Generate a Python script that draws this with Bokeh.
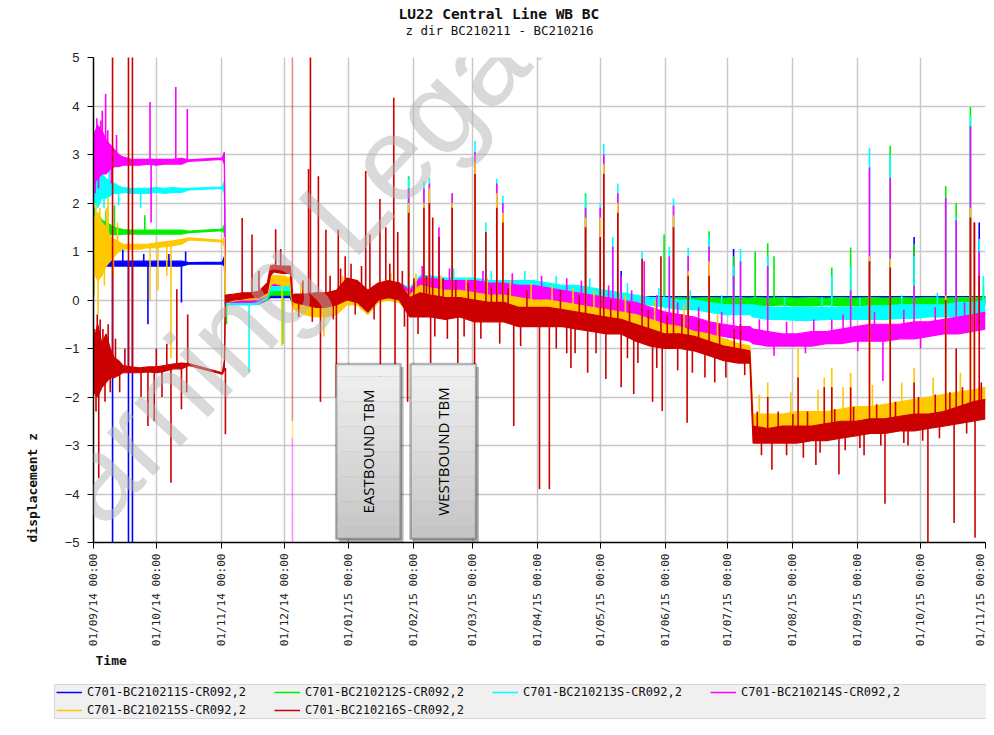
import math
import numpy as np
import pandas as pd
from bokeh.plotting import figure
from bokeh.layouts import column
from bokeh.models import (ColumnDataSource, Range1d, SingleIntervalTicker, MonthsTicker,
                          DatetimeTickFormatter, Legend, LegendItem, Label, BoxAnnotation, Title)
from bokeh.embed import file_html
from bokeh.resources import INLINE

START = "2014-09-01"
END = "2015-11-01"

# day offsets from START (shared by all series)
DAYS = [0, 2, 4, 6, 8, 10, 12, 14, 18, 22, 26, 30, 34, 38, 42, 45.5,
        61.5, 62.5, 63, 67, 71, 75, 79, 83, 84.5, 86, 90, 94,
        95, 96, 101, 106, 111, 116, 121, 126, 131, 136, 141, 146, 151,
        156, 161, 168, 175, 182, 189, 196, 203, 210, 217, 224, 231, 238, 245, 252, 259, 266, 273, 280, 287, 294, 301, 308, 313.5,
        315, 322, 329, 336, 343, 350, 357, 364, 371, 378, 385, 392, 399, 406, 413, 420, 426]

LABELS = ["C701-BC210211S-CR092,2", "C701-BC210212S-CR092,2", "C701-BC210213S-CR092,2",
          "C701-BC210214S-CR092,2", "C701-BC210215S-CR092,2", "C701-BC210216S-CR092,2"]
COLORS = ["#0000ff", "#00ee00", "#00ffff", "#ff00ff", "#ffc800", "#cc0000"]

BLUE_LO = [0.65, 0.6, 0.65, 0.7, 0.7, 0.7, 0.7, 0.7, 0.7, 0.7, 0.7, 0.7, 0.7, 0.7, 0.7, 0.74,
           0.74, 0.7, -0.08, -0.08, -0.08, -0.08, -0.08, 0.0, 0.05, 0.05, 0.05, 0.05,
           -0.05, -0.05, -0.05, -0.05, -0.05, -0.05, 0.0, 0.0, -0.02, 0.0, 0.0, 0.0, -0.05,
           0.0, 0.0, 0.0, 0.0, 0.0, 0.0, 0.0, -0.02, -0.02, -0.03, -0.03, -0.04, -0.05, -0.05, -0.05, -0.06, -0.06, -0.06, -0.06, -0.06, -0.06, -0.06, -0.06, -0.06,
           -0.06, -0.06, -0.06, -0.06, -0.06, -0.06, -0.06, -0.06, -0.06, -0.06, -0.06, -0.06, -0.06, -0.06, -0.06, -0.06, -0.06]
BLUE_HI = [0.95, 0.9, 0.9, 0.85, 0.8, 0.8, 0.8, 0.8, 0.8, 0.8, 0.8, 0.8, 0.8, 0.8, 0.8, 0.77,
           0.78, 0.9, 0.0, 0.0, 0.0, 0.0, 0.0, 0.08, 0.15, 0.15, 0.15, 0.15,
           0.05, 0.05, 0.05, 0.05, 0.05, 0.05, 0.1, 0.1, 0.05, 0.1, 0.1, 0.1, 0.05,
           0.2, 0.2, 0.2, 0.2, 0.2, 0.2, 0.2, 0.15, 0.15, 0.1, 0.1, 0.08, 0.07, 0.07, 0.07, 0.07, 0.07, 0.07, 0.07, 0.07, 0.07, 0.07, 0.07, 0.07,
           0.07, 0.07, 0.07, 0.07, 0.07, 0.07, 0.07, 0.07, 0.07, 0.07, 0.07, 0.07, 0.07, 0.07, 0.07, 0.07, 0.07]

GREEN_LO = [1.2, 1.2, 1.25, 1.3, 1.35, 1.35, 1.35, 1.36, 1.36, 1.36, 1.36, 1.36, 1.36, 1.36, 1.36, 1.39,
            1.43, 1.38, -0.05, -0.05, -0.05, -0.05, -0.05, 0.0, 0.1, 0.1, 0.1, 0.1,
            -0.05, -0.05, -0.05, -0.05, -0.05, -0.05, 0.0, 0.0, -0.05, 0.0, 0.0, 0.0, -0.05,
            0.05, 0.05, 0.05, 0.05, 0.05, 0.05, 0.05, 0.0, 0.0, 0.0, 0.0, 0.0, -0.05, -0.05, -0.05, -0.08, -0.1, -0.12, -0.12, -0.12, -0.12, -0.12, -0.12, -0.12,
            -0.12, -0.12, -0.1, -0.12, -0.12, -0.1, -0.12, -0.12, -0.1, -0.12, -0.12, -0.1, -0.12, -0.12, -0.1, -0.12, -0.1]
GREEN_HI = [1.7, 1.8, 1.65, 1.6, 1.55, 1.5, 1.48, 1.45, 1.44, 1.44, 1.44, 1.44, 1.44, 1.44, 1.44, 1.42,
            1.46, 1.55, 0.02, 0.02, 0.02, 0.02, 0.02, 0.1, 0.22, 0.22, 0.22, 0.22,
            0.05, 0.05, 0.05, 0.05, 0.05, 0.05, 0.2, 0.2, 0.05, 0.2, 0.2, 0.2, 0.15,
            0.3, 0.3, 0.3, 0.3, 0.3, 0.3, 0.3, 0.3, 0.3, 0.25, 0.2, 0.15, 0.15, 0.1, 0.1, 0.06, 0.05, 0.04, 0.05, 0.04, 0.05, 0.04, 0.05, 0.04,
            0.05, 0.04, 0.05, 0.04, 0.05, 0.04, 0.05, 0.04, 0.05, 0.04, 0.05, 0.04, 0.05, 0.04, 0.05, 0.05, 0.06]

CYAN_LO = [2.0, 1.9, 2.1, 2.1, 2.15, 2.2, 2.2, 2.22, 2.2, 2.2, 2.2, 2.22, 2.2, 2.22, 2.22, 2.27,
           2.3, 2.2, -0.1, -0.1, -0.1, -0.1, -0.08, 0.05, 0.2, 0.2, 0.2, 0.2,
           -0.05, -0.05, -0.05, -0.05, -0.05, -0.05, 0.05, 0.05, -0.1, 0.05, 0.1, 0.1, 0.0,
           0.15, 0.15, 0.15, 0.15, 0.1, 0.1, 0.1, 0.1, 0.1, 0.05, 0.05, 0.0, 0.0, 0.0, -0.05, -0.05, -0.1, -0.15, -0.2, -0.2, -0.25, -0.3, -0.3, -0.3,
           -0.35, -0.4, -0.4, -0.42, -0.42, -0.4, -0.4, -0.4, -0.4, -0.4, -0.38, -0.38, -0.35, -0.35, -0.35, -0.35, -0.3]
CYAN_HI = [2.6, 2.7, 2.6, 2.5, 2.45, 2.4, 2.35, 2.32, 2.3, 2.3, 2.3, 2.32, 2.3, 2.32, 2.3, 2.3,
           2.33, 2.45, 0.0, 0.0, 0.0, 0.0, 0.02, 0.15, 0.3, 0.32, 0.32, 0.3,
           0.05, 0.1, 0.1, 0.1, 0.1, 0.1, 0.3, 0.3, 0.15, 0.3, 0.35, 0.35, 0.25,
           0.5, 0.5, 0.45, 0.45, 0.45, 0.4, 0.4, 0.4, 0.4, 0.35, 0.3, 0.3, 0.25, 0.2, 0.15, 0.1, 0.05, 0.05, 0.0, 0.0, -0.05, -0.1, -0.1, -0.1,
           -0.1, -0.15, -0.15, -0.15, -0.15, -0.15, -0.15, -0.15, -0.12, -0.12, -0.1, -0.1, -0.1, -0.1, -0.05, -0.05, 0.0]

MAGENTA_LO = [2.4, 2.5, 2.6, 2.6, 2.7, 2.75, 2.75, 2.78, 2.78, 2.78, 2.8, 2.78, 2.8, 2.8, 2.8, 2.86,
              2.9, 2.8, -0.05, -0.05, -0.05, -0.05, -0.03, 0.1, 0.3, 0.3, 0.3, 0.3,
              0.0, -0.1, -0.1, -0.1, -0.1, -0.1, 0.0, 0.0, -0.15, 0.05, 0.1, 0.05, -0.1,
              0.05, 0.05, 0.05, 0.05, 0.0, 0.0, 0.0, -0.05, -0.05, -0.1, -0.1, -0.15, -0.2, -0.25, -0.3, -0.35, -0.45, -0.55, -0.6, -0.65, -0.7, -0.75, -0.8, -0.85,
              -0.9, -0.95, -0.95, -0.95, -0.95, -0.9, -0.9, -0.85, -0.85, -0.85, -0.8, -0.8, -0.75, -0.7, -0.7, -0.65, -0.6]
MAGENTA_HI = [3.4, 3.6, 3.5, 3.3, 3.2, 3.1, 3.0, 2.95, 2.9, 2.9, 2.9, 2.9, 2.9, 2.9, 2.92, 2.89,
              2.93, 3.05, 0.05, 0.05, 0.05, 0.05, 0.05, 0.2, 0.45, 0.45, 0.45, 0.45,
              0.1, 0.1, 0.1, 0.1, 0.1, 0.1, 0.3, 0.3, 0.15, 0.3, 0.35, 0.35, 0.2,
              0.45, 0.45, 0.4, 0.4, 0.4, 0.35, 0.35, 0.3, 0.3, 0.25, 0.2, 0.15, 0.1, 0.05, 0.0, -0.05, -0.15, -0.25, -0.3, -0.35, -0.45, -0.5, -0.55, -0.55,
              -0.6, -0.65, -0.7, -0.7, -0.65, -0.65, -0.6, -0.55, -0.5, -0.5, -0.5, -0.45, -0.45, -0.4, -0.35, -0.3, -0.25]

YELLOW_LO = [0.6, 0.4, 0.5, 0.7, 0.8, 0.9, 1.0, 1.05, 1.05, 1.05, 1.08, 1.08, 1.1, 1.12, 1.15, 1.24,
             1.2, 1.1, -0.05, -0.02, 0.0, 0.0, 0.02, 0.1, 0.3, 0.35, 0.3, 0.3,
             -0.1, -0.2, -0.3, -0.35, -0.35, -0.3, -0.1, -0.1, -0.3, -0.05, 0.0, -0.05, -0.3,
             -0.2, -0.2, -0.2, -0.2, -0.3, -0.3, -0.3, -0.3, -0.3, -0.35, -0.35, -0.4, -0.45, -0.5, -0.55, -0.65, -0.7, -0.8, -0.85, -0.9, -1.0, -1.05, -1.1, -1.15,
             -2.7, -2.75, -2.7, -2.7, -2.65, -2.6, -2.6, -2.55, -2.5, -2.5, -2.45, -2.4, -2.4, -2.35, -2.3, -2.2, -2.15]
YELLOW_HI = [1.7, 1.8, 1.6, 1.5, 1.3, 1.25, 1.2, 1.15, 1.15, 1.15, 1.15, 1.18, 1.2, 1.22, 1.25, 1.28,
             1.23, 1.3, 0.05, 0.05, 0.08, 0.08, 0.1, 0.25, 0.5, 0.5, 0.5, 0.45,
             0.0, 0.0, 0.0, 0.0, 0.0, 0.05, 0.3, 0.3, 0.1, 0.3, 0.35, 0.3, 0.1,
             0.3, 0.25, 0.2, 0.2, 0.15, 0.1, 0.1, 0.05, 0.0, 0.0, -0.05, -0.1, -0.15, -0.2, -0.25, -0.3, -0.4, -0.5, -0.55, -0.65, -0.7, -0.8, -0.9, -0.95,
             -2.35, -2.35, -2.35, -2.3, -2.3, -2.3, -2.25, -2.2, -2.2, -2.15, -2.1, -2.05, -2.0, -1.95, -1.9, -1.85, -1.8]

RED_LO = [-1.9, -2.0, -1.8, -1.7, -1.6, -1.6, -1.55, -1.5, -1.5, -1.5, -1.48, -1.5, -1.47, -1.42, -1.42, -1.35,
          -1.53, -1.45, -0.05, 0.0, 0.02, 0.05, 0.05, 0.15, 0.5, 0.58, 0.55, 0.55,
          0.0, -0.05, -0.1, -0.15, -0.15, -0.1, 0.0, -0.05, -0.25, 0.0, 0.05, 0.0, -0.35,
          -0.35, -0.35, -0.4, -0.35, -0.45, -0.45, -0.45, -0.55, -0.55, -0.55, -0.55, -0.6, -0.65, -0.7, -0.7, -0.85, -0.95, -1.0, -1.0, -1.05, -1.15, -1.25, -1.3, -1.3,
          -2.95, -2.95, -2.95, -2.95, -2.9, -2.9, -2.85, -2.8, -2.75, -2.75, -2.7, -2.7, -2.65, -2.6, -2.55, -2.5, -2.45]
RED_HI = [-0.9, -0.5, -0.9, -0.7, -1.0, -1.2, -1.25, -1.35, -1.38, -1.4, -1.38, -1.38, -1.35, -1.32, -1.3, -1.31,
          -1.5, -1.25, 0.1, 0.12, 0.15, 0.15, 0.18, 0.35, 0.7, 0.72, 0.7, 0.7,
          0.1, 0.12, 0.12, 0.15, 0.15, 0.2, 0.45, 0.4, 0.2, 0.35, 0.4, 0.35, 0.05,
          0.15, 0.1, 0.05, 0.05, 0.0, -0.05, -0.05, -0.15, -0.15, -0.15, -0.2, -0.25, -0.3, -0.35, -0.4, -0.5, -0.6, -0.7, -0.7, -0.75, -0.85, -0.95, -1.0, -1.05,
          -2.6, -2.65, -2.6, -2.6, -2.6, -2.55, -2.5, -2.5, -2.45, -2.45, -2.4, -2.35, -2.35, -2.3, -2.2, -2.1, -2.05]

# spikes: (day, from, to)
BLUE_SPIKES = [(1.5, 0.75, 0.5), (3.8, 0.75, 1.0),
               (9.1, 0.75, -5.1), (16.7, 0.75, -5.1), (18.6, 0.75, -5.1), (14, 0.75, 1.05), (24, 0.75, 0.95),
               (26, 0.75, -0.5), (36, 0.75, 0.95), (42, 0.75, -0.05), (44, 0.75, 1.0),
               (252, 0.0, 0.6), (305.7, 0.0, 1.05), (391.9, 0.0, 1.3), (423, 0.0, 1.6)]
GREEN_SPIKES = [(0.5, 1.4, 1.9), (2.6, 1.4, 1.0), (6, 1.4, 1.85),
                (10, 1.4, 1.95), (24.5, 1.4, 1.75), (63.5, 0.0, -0.5), (90.4, 0.15, -0.9), (150.5, 0.1, 2.55),
                (235, 0.05, 2.2), (272.5, 0.0, 1.35), (294, 0.0, 1.42), (305.7, 0.0, 0.9), (316, 0.0, 1.0),
                (322, 0.0, 1.17), (325, 0.0, 0.9), (352.6, 0.0, 0.67), (361.6, 0.0, 1.08), (380.5, 0.0, 3.18),
                (391.9, 0.0, 1.15), (407, 0.0, 2.35), (412, 0.0, 2.0), (418.8, 0.0, 3.98), (425, 0.0, 0.3)]
CYAN_SPIKES = [(1, 2.3, 1.7), (2.8, 2.3, 2.85), (5, 2.3, 1.9), (7.5, 2.25, 2.7), (12, 2.25, 1.95),
               (4, 2.3, 2.75), (22.5, 2.25, 1.9), (74.3, -0.05, -1.5),
               (150.5, 0.2, 2.5), (157.8, 0.2, 2.45), (160.4, 0.2, 2.52), (171.3, 0.2, 2.2), (182.2, 0.2, 3.28),
               (187.4, 0.2, 1.6), (192.6, 0.2, 2.5), (195.5, 0.2, 2.15), (235, 0.1, 2.15), (242, 0.1, 2.0),
               (243.7, 0.1, 3.22), (248, 0.1, 1.3), (250.4, 0.1, 2.4), (262, 0.0, 1.0), (275, 0.0, 1.1),
               (277, 0.0, 2.1), (284, 0.0, 1.07), (294, -0.1, 1.3), (305.7, -0.2, 0.7), (309, -0.2, 1.05),
               (322, -0.25, 0.9), (352.6, -0.25, 0.5), (361.6, -0.25, 0.7), (370.6, -0.25, 3.14),
               (380.5, -0.25, 3.0), (391.9, -0.25, 0.9), (407, -0.2, 2.1), (412, -0.2, 1.7),
               (418.8, -0.2, 3.8), (423, -0.2, 1.26), (425, -0.2, 0.5),
               (158, 0.3, 0.7), (172, 0.3, 0.65), (190, 0.3, 0.6), (206, 0.25, 0.6), (221, 0.2, 0.5),
               (237, 0.1, 0.45), (255, 0.0, 0.35), (270, -0.05, 0.25), (285, -0.1, 0.2), (300, -0.2, 0.1),
               (330, -0.25, 0.05), (348, -0.25, 0.05), (366, -0.25, 0.05), (386, -0.25, 0.1), (403, -0.2, 0.15)]
MAGENTA_SPIKES = [(0.8, 2.8, 2.2), (1.6, 2.9, 3.75), (2.4, 2.9, 2.3), (4.2, 3.0, 3.9), (6.8, 2.9, 3.5),
                  (8.5, 2.85, 2.4), (11, 2.85, 3.4),
                  (3.5, 3.0, 3.7), (5.8, 3.0, 4.25), (27, 2.85, 4.08), (27.5, 2.85, 1.6), (39.3, 2.85, 4.39),
                  (44.8, 2.85, 3.94), (150.5, 0.1, 2.3), (157.8, 0.2, 2.3), (160.4, 0.2, 2.4), (165, 0.2, 1.5),
                  (171.3, 0.2, 2.2), (182.2, 0.2, 3.05), (192.6, 0.2, 2.4), (195.5, 0.2, 2.0), (235, 0.0, 1.9),
                  (242, 0.0, 1.9), (243.7, -0.1, 3.0), (248, -0.1, 1.1), (250.4, -0.1, 2.2), (252, -0.1, 0.5),
                  (263, -0.2, 0.8), (275, -0.3, 0.9), (277, -0.35, 1.95), (284, -0.4, 0.9), (294, -0.5, 1.1),
                  (305.7, -0.6, 0.5), (309, -0.6, 0.8), (322, -0.8, 0.7), (352.6, -0.8, -0.4), (361.6, -0.7, 0.2),
                  (370.6, -0.7, 2.73), (377, -0.7, -1.67), (380.5, -0.65, 2.52), (391.9, -0.6, 0.3),
                  (407, -0.55, 2.1), (412, -0.5, 1.65), (418.8, -0.45, 3.58), (420.7, -0.45, 1.6), (423, -0.4, 1.0),
                  (157, 0.3, 0.7), (170, 0.3, 0.65), (186, 0.25, 0.6), (200, 0.2, 0.55), (214, 0.15, 0.5),
                  (226, 0.05, 0.45), (233, 0.0, 0.4), (246, -0.1, 0.3), (257, -0.2, 0.2), (269, -0.35, 0.1),
                  (279, -0.45, -0.05), (289, -0.55, -0.15), (300, -0.65, -0.25), (318, -0.8, -0.4),
                  (331, -0.85, -0.45), (344, -0.8, -0.4), (358, -0.75, -0.3), (373, -0.7, -0.25),
                  (387, -0.65, -0.2), (402, -0.6, -0.15), (416, -0.5, -0.05), (325, -0.8, -1.15),
                  (340, -0.8, -1.1), (365, -0.75, -1.05), (395, -0.65, -1.0)]
YELLOW_SPIKES = [(0.3, 1.0, 0.1), (1.1, 1.0, 2.0), (2.2, 1.0, -0.3), (3, 1.0, 1.9), (5.2, 1.05, 0.3),
                 (6.3, 1.05, 1.9), (9.5, 1.05, 0.5), (11.5, 1.1, 1.6),
                 (7, 1.1, 2.1), (27, 1.1, 0.0), (30.8, 1.1, 0.2), (35, 1.15, 0.5), (37, 1.15, -1.2),
                 (90, 0.4, -0.95), (110, -0.2, -0.75), (150.5, 0.0, 2.0), (157.8, 0.0, 2.0), (160.4, 0.0, 2.3),
                 (171.3, 0.0, 2.0), (182.2, 0.0, 2.85), (192.6, -0.1, 2.2), (195.5, -0.1, 1.8), (235, -0.2, 1.7),
                 (242, -0.3, 1.7), (243.7, -0.3, 2.8), (250.4, -0.3, 2.0), (277, -0.6, 1.75), (284, -0.7, 0.6),
                 (294, -0.8, 0.8), (322, -2.5, -1.7), (336.5, -2.5, -1.0), (349, -2.45, -1.6), (352.6, -2.45, -1.4),
                 (361.6, -2.4, -1.5), (370.6, -2.35, 0.9), (380.5, -2.3, 0.85), (391.9, -2.2, -1.4), (407, -2.1, 0.1),
                 (418.8, -2.0, 1.9), (420.7, -2.0, 1.6),
                 (99, -0.1, 0.35), (119, 0.1, 0.5), (142, 0.1, 0.55), (154, 0.0, 0.55), (166, 0.0, 0.5),
                 (178, 0.0, 0.45), (188, -0.1, 0.45), (199, -0.1, 0.4), (209, -0.15, 0.35), (219, -0.2, 0.3),
                 (229, -0.25, 0.25), (239, -0.3, 0.2), (254, -0.4, 0.1), (268, -0.55, 0.0), (282, -0.7, -0.1),
                 (298, -0.85, -0.3), (318, -2.4, -1.95), (333, -2.4, -1.9), (346, -2.35, -1.85), (358, -2.3, -1.8),
                 (372, -2.25, -1.75), (386, -2.2, -1.7), (401, -2.1, -1.6), (414, -2.0, -1.5)]
RED_SPIKES = [(0.5, -1.4, -0.6), (1.2, -1.4, -2.3), (1.8, -1.4, -0.3), (4.5, -1.3, -0.6), (5.5, -1.3, -2.1),
              (7, -1.3, -0.5), (8, -1.3, -1.9), (10.5, -1.4, -0.8), (12.5, -1.4, -1.9), (15, -1.45, -1.0),
              (2.5, -1.4, -3.67), (3.2, -1.3, -0.4), (9.1, -1.4, 5.1), (16.7, -1.4, 5.1), (18.6, -1.4, 5.1),
              (22.7, -1.45, -2.0), (26, -1.45, -2.6), (29, -1.45, -2.5), (30, -1.45, -1.0), (32.7, -1.45, -2.0),
              (35, -1.4, -0.9), (37, -1.4, -3.77), (39.8, -1.35, 0.22), (42, -1.35, -2.25), (44.5, -1.35, -1.9),
              (45, -1.3, -0.3), (63, -1.4, -2.77), (71, 0.1, 1.69), (75.7, 0.1, 1.35), (79, 0.1, 0.6),
              (87, 0.65, 1.46), (89.4, 0.65, 1.05), (102.7, 0.0, 2.7), (103.6, 0.0, 5.1), (107.4, 0.0, 2.55),
              (108.4, 0.0, -2.1), (111, 0.0, 1.45), (116, 0.0, -2.0), (116.9, 0.1, 1.45), (120.2, 0.2, 0.9),
              (130, 0.1, 2.66), (132, 0.0, 1.35), (136.8, 0.2, 2.08), (137, 0.1, -2.0), (139.6, 0.2, 1.5),
              (143.4, 0.2, 4.17), (144, 0.1, -1.5), (145.3, 0.2, 1.4), (150, 0.0, -2.1), (150.5, -0.1, 1.8),
              (157.8, -0.1, 1.9), (160.4, -0.1, 2.0), (161, -0.1, -1.3), (162, -0.1, 1.7), (165, -0.1, 1.3),
              (171.3, -0.15, 1.9), (174, -0.15, -1.3), (182, -0.2, -1.4), (182.2, -0.2, 2.6), (187.4, -0.2, 1.4),
              (192.6, -0.25, 1.9), (195.5, -0.25, 1.6), (200.7, -0.3, -2.6), (213, -0.35, -3.9), (217.7, -0.35, -3.9),
              (226, -0.4, -1.1), (228, -0.4, -1.4), (235, -0.4, 1.5), (236, -0.45, -1.5), (242, -0.5, 1.3),
              (243.7, -0.5, 2.6), (244.7, -0.5, -1.63), (250.4, -0.55, 1.8), (252, -0.6, -1.8), (258, -0.65, -1.94),
              (262, -0.65, 0.85), (267, -0.8, -2.1), (271, -0.8, 0.9), (271.6, -0.8, -2.29), (277, -0.85, 1.5),
              (283.5, -0.9, -2.53), (284, -0.9, 0.5), (294, -1.0, 0.5), (296.7, -1.05, -1.7), (309, -1.15, -0.5),
              (322, -2.8, -2.0), (324, -2.8, -3.5), (336.5, -2.8, -1.6), (345, -2.75, -3.4), (349, -2.7, -1.8),
              (352.6, -2.7, -1.8), (356, -2.7, -3.6), (361.6, -2.65, -1.8), (368, -2.6, -3.2), (370.6, -2.6, 0.8),
              (378, -2.6, -4.2), (380.5, -2.6, 0.67), (389, -2.5, -3.0), (391.9, -2.5, -1.7), (398.5, -2.5, -5.1),
              (407, -2.4, 0.0), (411, -2.4, -4.6), (412, -2.4, -1.0), (418.8, -2.3, 1.7), (420.7, -2.3, 1.6),
              (421, -2.3, -4.9), (423, -2.2, 0.5),
              (98, 0.05, -0.35), (100, 0.05, 0.4), (104.5, 0.0, -0.45), (113, 0.05, 0.5), (114.5, 0.0, -0.4),
              (118, 0.1, 0.65), (123, 0.2, 0.75), (125, 0.15, -0.3), (128, 0.1, 0.7), (134, 0.1, -0.4),
              (141.5, 0.2, 0.75), (147.5, 0.1, 0.6), (148.5, 0.0, -0.55), (153, -0.15, 0.45), (155, -0.1, -0.7),
              (159, -0.1, 0.5), (163, -0.15, -0.75), (167, -0.15, 0.45), (169, -0.2, -0.8), (173, -0.15, 0.4),
              (177, -0.2, -0.75), (179, -0.2, 0.35), (185, -0.2, -0.8), (190, -0.25, 0.3), (194, -0.25, -0.9),
              (198, -0.3, 0.25), (204, -0.35, -0.95), (207, -0.35, 0.2), (221, -0.35, -1.0), (223, -0.35, 0.2),
              (230, -0.45, -1.1), (232, -0.45, 0.1), (240, -0.5, -1.1), (247, -0.5, 0.0), (255, -0.6, -1.2),
              (256, -0.6, -0.05), (260, -0.7, -1.3), (265, -0.75, -0.2), (269, -0.8, -1.4), (274, -0.85, -0.3),
              (279, -0.85, -1.45), (281, -0.85, -0.3), (286, -0.9, -1.5), (289, -0.9, -0.4), (292, -1.0, -1.6),
              (299, -1.05, -0.5), (302, -1.1, -1.6), (306, -1.1, -0.6), (311, -1.15, -1.55),
              (317, -2.8, -2.3), (319, -2.8, -3.2), (327, -2.8, -2.3), (331, -2.8, -3.2), (334, -2.8, -2.35),
              (339, -2.8, -3.25), (341, -2.75, -2.3), (347, -2.75, -3.15), (354, -2.7, -2.25), (359, -2.7, -3.1),
              (363, -2.65, -2.2), (366, -2.65, -3.05), (374, -2.6, -2.15), (376, -2.6, -3.0), (383, -2.55, -2.1),
              (387, -2.55, -2.95), (394, -2.5, -2.0), (396, -2.5, -2.9), (402, -2.45, -1.95), (404, -2.45, -2.85),
              (409, -2.4, -1.9), (415, -2.35, -1.8), (417, -2.35, -2.75), (424, -2.25, -1.7)]
# data-gap connector lines (pale): (series index, day, from, to)
GAP_LINES = [(5, 95, 5.1, -2.5), (4, 95, -2.5, -2.85), (3, 95, -2.85, -5.1)]

LO = [BLUE_LO, GREEN_LO, CYAN_LO, MAGENTA_LO, YELLOW_LO, RED_LO]
HI = [BLUE_HI, GREEN_HI, CYAN_HI, MAGENTA_HI, YELLOW_HI, RED_HI]
SPIKES = [BLUE_SPIKES, GREEN_SPIKES, CYAN_SPIKES, MAGENTA_SPIKES, YELLOW_SPIKES, RED_SPIKES]

# annotation boxes (days, value)
TBM_BOXES = [("EASTBOUND TBM", 115.9, 146.7), ("WESTBOUND TBM", 151.4, 182.7)]
TBM_TOP, TBM_BOTTOM = -1.32, -4.93

t0 = pd.Timestamp(START)


def to_dt(d):
    return t0 + pd.to_timedelta(np.asarray(d, dtype=float), unit="D")


def to_ms(d):
    return (t0 + pd.to_timedelta(d, unit="D")).value / 1e6


W = 986
p = figure(width=W, height=681, x_axis_type="datetime", output_backend="svg",
           toolbar_location=None, title=None,
           x_range=Range1d(pd.Timestamp(START), pd.Timestamp(END)), y_range=Range1d(-5, 5),
           min_border_left=93, min_border_right=1, min_border_top=57, min_border_bottom=139)
p.outline_line_color = None
p.background_fill_color = "white"
p.border_fill_color = "white"

mono = "DejaVu Sans Mono"

p.add_layout(Title(text="z dir BC210211 - BC210216", align="left", offset=312, text_font=mono,
                   text_font_size="12.5px", text_font_style="normal", text_color="#111111", standoff=39), "above")
p.add_layout(Title(text="LU22 Central Line WB BC", align="left", offset=305, text_font=mono,
                   text_font_size="14.5px", text_font_style="bold", text_color="#111111", standoff=-41), "above")

# axes
p.yaxis.ticker = SingleIntervalTicker(interval=1)
p.ygrid.ticker = SingleIntervalTicker(interval=1)
p.xaxis.ticker = MonthsTicker(months=list(range(1, 13)))
p.xgrid.ticker = MonthsTicker(months=list(range(1, 13)))
fmt = "%d/%m/%y %H:%M"
p.xaxis.formatter = DatetimeTickFormatter(milliseconds=fmt, seconds=fmt, minsec=fmt, minutes=fmt, hourmin=fmt,
                                          hours=fmt, days=fmt, months=fmt, years=fmt)
p.xaxis.major_label_orientation = math.pi / 2
for ax in (p.xaxis, p.yaxis):
    ax.axis_line_color = "#000000"
    ax.axis_line_width = 1.5
    ax.major_tick_line_color = "#000000"
    ax.major_tick_out = 6
    ax.major_tick_in = 0
    ax.minor_tick_line_color = None
    ax.major_label_text_color = "#222222"
p.xaxis.major_label_text_font = mono
p.xaxis.major_label_text_font_size = "11px"
p.xaxis.major_label_standoff = 5
p.yaxis.major_label_text_font = "Liberation Sans"
p.yaxis.major_label_text_font_size = "13px"
p.yaxis.major_label_standoff = 8
for g in (p.xgrid, p.ygrid):
    g.grid_line_color = "#c8c8c8"
    g.grid_line_width = 1.5

# axis titles
p.add_layout(Title(text="displacement z", align="left", offset=0, text_font=mono, text_font_style="bold",
                   text_font_size="13px", text_color="#111111", standoff=44), "left")
p.add_layout(Title(text="Time", align="left", offset=2, text_font=mono, text_font_style="bold",
                   text_font_size="13px", text_color="#111111", standoff=2), "below")

# series
for i in range(6):
    src = ColumnDataSource(dict(x=to_dt(DAYS), lo=LO[i], hi=HI[i]))
    col = COLORS[i]
    p.varea(x="x", y1="lo", y2="hi", source=src, fill_color=col)
    p.line(x="x", y="lo", source=src, line_color=col, line_width=1.2)
    p.line(x="x", y="hi", source=src, line_color=col, line_width=1.2)
    sp = SPIKES[i]
    sd = to_dt([s[0] for s in sp])
    p.segment(x0=sd, y0=[s[1] for s in sp], x1=sd, y1=[s[2] for s in sp], line_color=col, line_width=1.6)

for (si, d, a, b) in GAP_LINES:
    dd = to_dt([d])
    p.segment(x0=dd, y0=[a], x1=dd, y1=[b], line_color=COLORS[si], line_width=1.6, line_alpha=0.45)

# TBM boxes (gradient + shadow + border)
NSTRIP = 14
for (txt, d0, d1) in TBM_BOXES:
    p.add_layout(BoxAnnotation(left=to_ms(d0 + 1.4), right=to_ms(d1 + 1.4), top=TBM_TOP - 0.06,
                               bottom=TBM_BOTTOM - 0.06, fill_color="#000000", fill_alpha=0.28,
                               line_color=None))
    h = (TBM_TOP - TBM_BOTTOM) / NSTRIP
    for k in range(NSTRIP):
        g = int(round(240 - (240 - 198) * k / (NSTRIP - 1)))
        p.add_layout(BoxAnnotation(left=to_ms(d0), right=to_ms(d1), top=TBM_TOP - k * h,
                                   bottom=TBM_TOP - (k + 1) * h, fill_color=(g, g, g), fill_alpha=1.0,
                                   line_color=None))
    p.add_layout(BoxAnnotation(left=to_ms(d0), right=to_ms(d1), top=TBM_TOP, bottom=TBM_BOTTOM,
                               fill_alpha=0.0, line_color="#151515", line_width=2.5))
    p.add_layout(Label(x=to_ms((d0 + d1) / 2), y=(TBM_TOP + TBM_BOTTOM) / 2, text=txt, angle=math.pi / 2,
                       text_align="center", text_baseline="middle", text_font="Open Sans",
                       text_font_size="15px", text_color="#000000"))

# watermark
p.add_layout(Label(x=-113, y=-57, x_units="screen", y_units="screen", text="Learning Legal",
                   angle=math.radians(47), text_align="left", text_baseline="alphabetic",
                   text_font="Liberation Sans", text_font_size="120px", text_color="#b4b4b4",
                   text_alpha=0.5))

# legend strip below the chart
q = figure(width=W, height=38, output_backend="svg", toolbar_location=None, title=None,
           x_axis_location=None, y_axis_location=None, min_border=0,
           min_border_left=0, min_border_right=0, min_border_top=0, min_border_bottom=0,
           x_range=Range1d(0, 1), y_range=Range1d(0, 1))
frame_off = 0
try:
    q.frame_align = False
except Exception:
    frame_off = 93
q.grid.visible = False
q.outline_line_color = None
q.background_fill_color = "white"
q.border_fill_color = "white"
q.add_layout(BoxAnnotation(left=54 - frame_off, right=W, bottom=1, top=35, left_units="screen",
                           right_units="screen", bottom_units="screen", top_units="screen",
                           fill_color="#f0f0f0", fill_alpha=1.0, line_color="#8c8c8c", line_width=1))
legend_items = []
for i in range(6):
    # single-point placeholder renderer (draws nothing) so the legend can show the series line style
    r = q.line(x=[DAYS[0]], y=[LO[i][0]], line_color=COLORS[i], line_width=1.5)
    legend_items.append(LegendItem(label=LABELS[i], renderers=[r]))
legend = Legend(items=legend_items, location=(56 - frame_off, 2), orientation="horizontal", ncols=4,
                background_fill_alpha=0.0, border_line_color=None,
                label_text_font=mono, label_text_font_size="12px", label_text_color="#111111",
                glyph_width=26, glyph_height=12, label_height=12, label_standoff=5, label_width=183,
                spacing=4, padding=3, margin=0)
q.add_layout(legend)

open("out.html", "w").write(file_html(column(p, q), INLINE))
